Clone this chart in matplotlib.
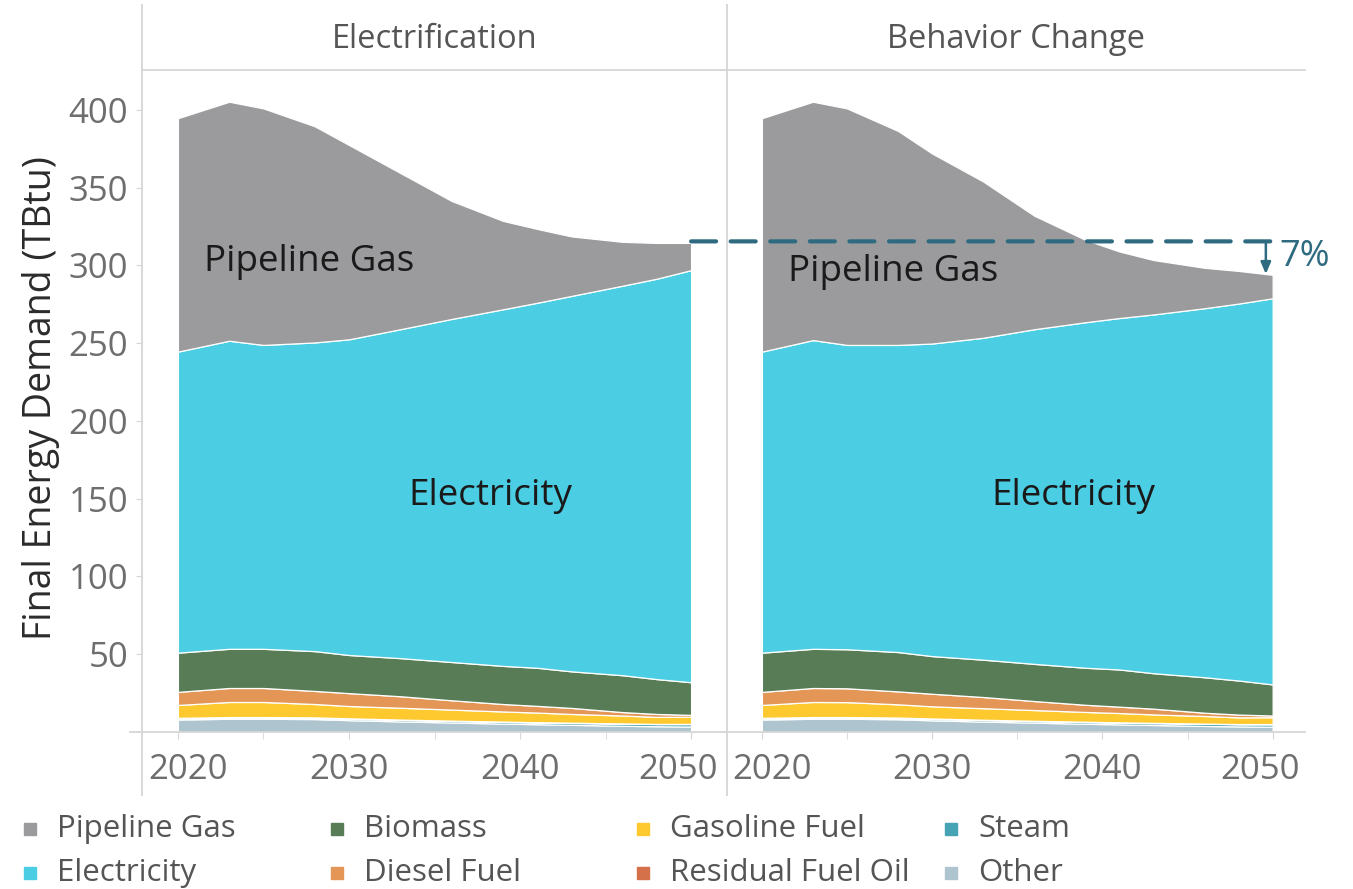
import matplotlib.pyplot as plt
from matplotlib.patches import ConnectionPatch, Rectangle
from matplotlib.lines import Line2D
from matplotlib.transforms import ScaledTranslation

plt.rcParams['font.family'] = ['Open Sans', 'DejaVu Sans']

years = [2020, 2023, 2025, 2028, 2030, 2033, 2036, 2039, 2041, 2043, 2046, 2048, 2050]

# Electrification scenario (TBtu), stacked bottom -> top
e_other    = [8.0, 8.5, 8.5, 8.3, 7.6, 6.8, 6.1, 5.4, 5.0, 4.6, 4.0, 3.7, 3.5]
e_steam    = [0.8, 0.8, 0.8, 0.8, 0.9, 1.0, 1.0, 1.1, 1.1, 1.2, 1.4, 1.4, 1.6]
e_residual = [0.3, 0.3, 0.3, 0.3, 0.3, 0.2, 0.2, 0.2, 0.2, 0.2, 0.1, 0.1, 0.1]
e_gasoline = [8.3, 9.7, 9.7, 8.6, 7.9, 7.6, 7.1, 6.5, 6.2, 5.6, 5.1, 4.5, 4.6]
e_diesel   = [8.4, 9.0, 9.0, 8.4, 8.3, 7.4, 6.0, 4.8, 4.3, 3.9, 2.2, 1.9, 1.2]
e_biomass  = [25.2, 25.2, 25.2, 25.6, 24.5, 24.5, 24.6, 24.5, 24.5, 23.5, 23.7, 22.4, 21.0]
e_elec     = [193.6, 198.1, 195.4, 198.5, 203.0, 211.5, 220.6, 229.3, 234.7, 241.4, 250.5, 257.5, 265.0]
e_gas      = [150.1, 153.7, 152.1, 139.0, 125.0, 100.5, 75.9, 56.9, 47.5, 38.3, 28.2, 23.0, 17.5]

# Behavior Change scenario (TBtu)
b_other    = [8.0, 8.5, 8.5, 8.2, 7.5, 6.7, 6.0, 5.3, 4.9, 4.5, 3.9, 3.6, 3.4]
b_steam    = [0.8, 0.8, 0.8, 0.8, 0.9, 1.0, 1.0, 1.1, 1.1, 1.2, 1.4, 1.4, 1.6]
b_residual = [0.3, 0.3, 0.3, 0.3, 0.3, 0.2, 0.2, 0.2, 0.2, 0.2, 0.1, 0.1, 0.1]
b_gasoline = [8.3, 9.7, 9.6, 8.5, 7.8, 7.4, 6.9, 6.3, 6.0, 5.4, 4.9, 4.3, 4.4]
b_diesel   = [8.4, 9.0, 8.9, 8.3, 8.1, 7.2, 5.8, 4.6, 4.1, 3.7, 2.1, 1.8, 1.1]
b_biomass  = [25.2, 25.2, 25.1, 25.3, 24.2, 24.0, 23.9, 23.8, 23.9, 22.8, 22.8, 21.9, 20.0]
b_elec     = [193.6, 198.5, 195.7, 197.5, 201.0, 207.0, 215.2, 222.2, 226.0, 230.7, 237.3, 242.4, 248.3]
b_gas      = [150.1, 153.3, 152.1, 137.6, 122.2, 100.5, 73.0, 53.0, 42.8, 35.0, 26.0, 21.0, 15.1]

labels = ['Other', 'Steam', 'Residual Fuel Oil', 'Gasoline Fuel', 'Diesel Fuel',
          'Biomass', 'Electricity', 'Pipeline Gas']
colors = ['#aec4ce', '#45a3b3', '#d4704a', '#fec92e', '#e39656', '#587c55', '#4bcde3', '#9b9b9d']
panels = ['Electrification', 'Behavior Change']
yticks = [50, 100, 150, 200, 250, 300, 350, 400]
xticks = [2020, 2030, 2040, 2050]

e_series = [e_other, e_steam, e_residual, e_gasoline, e_diesel, e_biomass, e_elec, e_gas]
b_series = [b_other, b_steam, b_residual, b_gasoline, b_diesel, b_biomass, b_elec, b_gas]

W, H = 1353, 889
fig = plt.figure(figsize=(W / 100, H / 100), dpi=100, facecolor='w')

def fx(px):
    return px / W

def fy(py):
    return 1 - py / H

ax1 = fig.add_axes([fx(142), fy(732), fx(727) - fx(142), fy(70) - fy(732)])
ax2 = fig.add_axes([fx(727), fy(732), fx(1305) - fx(727), fy(70) - fy(732)])

ax1.set_xlim(2017.9, 2052.1)
ax2.set_xlim(2017.95, 2051.9)
grey = '#d6d6d6'
for ax, series in [(ax1, e_series), (ax2, b_series)]:
    ax.stackplot(years, *series, colors=colors, edgecolor='white', linewidth=0.9)
    ax.set_ylim(0, 425.7)
    for s in ax.spines.values():
        s.set_visible(False)
    ax.set_xticks(xticks)
    ax.set_xticks([2025, 2035, 2045], minor=True)
    ax.tick_params(axis='x', which='both', length=5, color=grey, labelsize=25,
                   labelcolor='#6e6e6e', pad=10)
    ax.set_yticks(yticks)
    # edge labels are pushed inside the pane, like the original
    ticks = ax.xaxis.get_major_ticks()
    for t, dx in [(ticks[0], 10), (ticks[-1], -13)]:
        t.label1.set_transform(t.label1.get_transform()
                               + ScaledTranslation(dx / 100, 0, fig.dpi_scale_trans))

ax1.tick_params(axis='y', length=4, color=grey, labelsize=25, labelcolor='#6e6e6e', pad=6)
ax2.tick_params(axis='y', length=0, labelleft=False)

# frame lines
for (x0, y0, x1, y1) in [(142, 5, 142, 795), (727, 5, 727, 795),
                         (142, 70, 1305, 70), (130, 732, 1305, 732)]:
    fig.add_artist(Line2D([fx(x0), fx(x1)], [fy(y0), fy(y1)], color=grey, lw=1.3))

# panel headers
fig.text(fx(435), fy(40), panels[0], ha='center', va='center', fontsize=23.5, color='#555555')
fig.text(fx(1016), fy(40), panels[1], ha='center', va='center', fontsize=23.5, color='#555555')

fig.text(fx(41), fy(398), 'Final Energy Demand (TBtu)', rotation=90, ha='center',
         va='center', fontsize=27, color='#2b2b2b')

# in-chart labels
for ax in (ax1, ax2):
    ax.text(2021.55, 302, 'Pipeline Gas', fontsize=26.5, color='#1a1a1a', va='center')
    ax.text(2033.5, 152, 'Electricity', fontsize=26.5, color='#1a1a1a', va='center')
ax2.texts[0].set_y(296)

# 7% reduction annotation
tot_e = sum(s[-1] for s in e_series)
tot_b = sum(s[-1] for s in b_series)
anno = '#2e6b80'
con = ConnectionPatch(xyA=(years[-1], tot_e + 1), coordsA=ax1.transData,
                      xyB=(years[-1], tot_e + 1), coordsB=ax2.transData,
                      color=anno, lw=3, linestyle=(0, (6, 3.5)))
fig.add_artist(con)
ax2.annotate('', xy=(2049.6, tot_b + 0.5), xytext=(2049.6, tot_e + 1),
             arrowprops=dict(arrowstyle='-|>,head_width=0.3,head_length=0.7',
                             color=anno, lw=1.8, shrinkA=0, shrinkB=0))
red = round((1 - tot_b / tot_e) * 100)
ax2.text(2050.4, (tot_e + tot_b) / 2 + 1, f'{red}%', fontsize=26, color=anno,
         va='center', ha='left', clip_on=False)

# legend (column-major order)
leg_order = ['Pipeline Gas', 'Electricity', 'Biomass', 'Diesel Fuel',
             'Gasoline Fuel', 'Residual Fuel Oil', 'Steam', 'Other']
col_x = [24, 331, 637, 945]
row_y = [829, 873]
for i, name in enumerate(leg_order):
    cx = col_x[i // 2]
    cy = row_y[i % 2]
    c = colors[labels.index(name)]
    fig.add_artist(Rectangle((fx(cx), fy(cy + 6)), 12 / W, 12 / H, color=c,
                             transform=fig.transFigure))
    fig.text(fx(cx + 33), fy(cy), name, ha='left', va='center', fontsize=22.5, color='#555555')

fig.savefig('out.png', dpi=100, facecolor='w')
